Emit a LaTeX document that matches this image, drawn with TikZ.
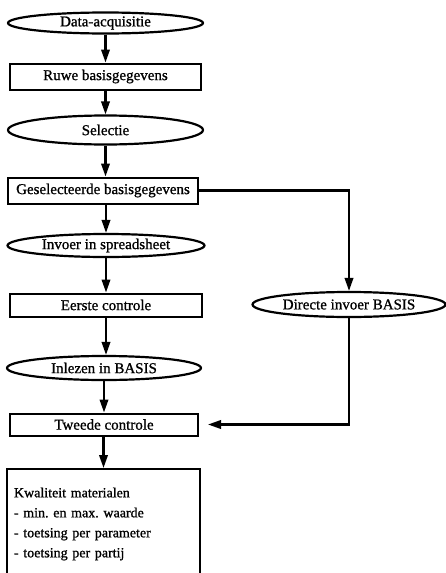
\documentclass[tikz,border=0pt]{standalone}
\usepackage{fontspec}
\setmainfont[FakeBold=1]{Liberation Serif}
\usetikzlibrary{shapes.geometric,arrows.meta}
\begin{document}
\frenchspacing
\begin{tikzpicture}[x=1pt,y=-1pt,
  txt/.style={font=\fontsize{15}{20}\selectfont},
  ell/.style={txt,draw,line width=2.2pt,ellipse,inner sep=0pt},
  box/.style={txt,draw,line width=2pt,rectangle,inner sep=0pt},
  arr/.style={line width=2.1pt,-{Triangle[length=13pt,width=8.5pt]}}]
\useasboundingbox (0,0) rectangle (446,573);
\node[ell,minimum width=195pt,minimum height=21pt] (data) at (105.5,23) {Data-acquisitie};
\node[box,minimum width=191pt,minimum height=26pt] (ruwe) at (105.5,76.5) {Ruwe basisgegevens};
\node[ell,minimum width=195pt,minimum height=29pt] (sel) at (105.5,130) {Selectie};
\node[box,minimum width=190pt,minimum height=26pt] (ges) at (103,190.5) {Geselecteerde basisgegevens};
\node[ell,minimum width=197pt,minimum height=23pt] (inv) at (106,245.5) {Invoer in spreadsheet};
\node[box,minimum width=192pt,minimum height=23pt] (eer) at (106,305) {Eerste controle};
\node[ell,minimum width=193pt,minimum height=25pt] (dir) at (349,304.5) {Directe invoer BASIS};
\node[ell,minimum width=194pt,minimum height=24pt] (inl) at (104,368) {Inlezen in BASIS};
\node[box,minimum width=188pt,minimum height=22pt] (twe) at (104,424.5) {Tweede controle};
\node[txt,draw,line width=2pt,rectangle,minimum width=193pt,minimum height=110pt,
      text width=179pt,align=left,inner sep=0pt,anchor=north,
      font=\fontsize{14}{20}\selectfont] (kwal) at (103.5,468)
  {Kwaliteit materialen\\- min. en max. waarde\\- toetsing per parameter\\- toetsing per partij};
\draw[arr] (data.south -| ruwe.north) -- (ruwe.north);
\draw[arr] (ruwe) -- (sel);
\draw[arr] (sel.south) -- (sel.south |- ges.north);
\draw[arr] (ges.south -| inv.north) -- (inv.north);
\draw[arr] (inv) -- (eer);
\draw[arr] (eer.south) -- (eer.south |- inl.north);
\draw[arr] (inl.south) -- (inl.south |- twe.north);
\draw[arr] (twe.south -| kwal.north) -- (kwal.north);
\draw[arr] (ges.east) -| (dir.north);
\draw[arr,shorten >=9pt] (dir.south) |- (twe.east);
\end{tikzpicture}
\end{document}
